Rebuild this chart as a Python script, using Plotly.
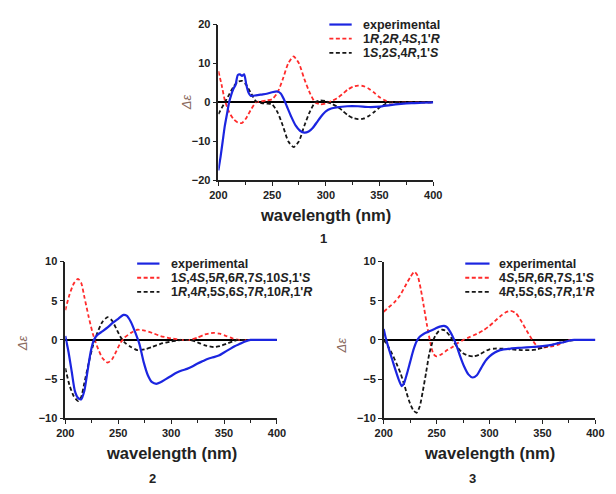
import plotly.graph_objects as go

# ---------------- data ----------------
# Panel 1
wl1_exp = [200, 202, 204, 206, 208, 210, 212, 214, 216, 218, 220, 222, 224, 226, 228, 230, 235, 240, 245, 250,
           255, 258, 261, 264, 268, 272, 276, 280, 284, 288, 292, 296, 300, 305, 310, 320, 330, 340, 350, 360,
           370, 380, 390, 400]
exp1 = [-17.5, -14, -10, -6, -3, 0, 2, 3.5, 4.5, 7, 7.2, 6.8, 7.2, 4.5, 2.5, 1.7, 1.8, 2.0, 2.2, 2.6,
        2.8, 2.3, 0.8, -1.2, -3.8, -6, -7.3, -7.8, -7.5, -6.5, -5, -3.5, -2.3, -1.6, -1.3, -1.0, -1.0, -1.2, -1.1, -0.7,
        -0.4, -0.2, -0.1, 0]
wl1_calc = [200, 203, 206, 210, 214, 218, 222, 226, 230, 235, 240, 245, 250, 255, 260, 265, 270, 275, 280, 285,
            290, 295, 300, 305, 310, 315, 320, 325, 330, 335, 340, 345, 350, 355, 360, 370, 380, 390, 400]
red1 = [8, 4.5, 0.5, -2.5, -4.3, -5.2, -5.3, -4, -2, 0, 0.3, 0.5, 0.8, 2.5, 6, 10, 11.8, 10, 6, 2.5,
        0, -0.5, -0.3, 0.3, 1, 2, 3.2, 4, 4.3, 4.2, 3.5, 2.5, 1.3, 0.5, 0, 0, 0, 0, 0]
black1 = [-3, -1.5, 0, 2, 4, 5.3, 5.5, 4.5, 2.5, 0.3, -0.2, -0.3, -0.5, -2.5, -6, -10, -11.5, -10, -6, -2.5,
          0, 0.5, 0.3, -0.3, -1, -2, -3.2, -4, -4.3, -4.2, -3.5, -2.5, -1.3, -0.5, 0, 0, 0, 0, 0]

# Panel 2
wl2_exp = [200, 203, 206, 209, 212, 215, 218, 221, 224, 227, 230, 235, 240, 245, 250, 255, 258, 262, 266, 270,
           274, 278, 282, 286, 290, 295, 300, 305, 310, 315, 320, 325, 330, 335, 340, 345, 350, 355, 360, 365,
           370, 375, 380, 390, 400]
exp2 = [0.5, -1.5, -4, -6.5, -7.4, -7.6, -6.5, -4, -1.5, 0, 0.6, 1.1, 1.6, 2.2, 2.7, 3.2, 3.1, 2.3, 1.0, -0.5,
        -2.8, -4.5, -5.4, -5.6, -5.4, -5.0, -4.6, -4.2, -3.9, -3.7, -3.4, -3.0, -2.7, -2.4, -2.2, -2.0, -1.6, -1.2, -0.8, -0.5,
        -0.2, 0, 0, 0, 0]
wl2_calc = [200, 204, 208, 212, 215, 218, 222, 226, 230, 235, 240, 244, 248, 252, 256, 262, 268, 275, 282, 290,
            300, 310, 318, 325, 332, 340, 346, 352, 358, 364, 380, 400]
red2 = [3.8, 5.8, 7.2, 7.8, 7.3, 5.5, 3, 0.8, -0.8, -2.3, -2.9, -2.5, -1.5, -0.4, 0.3, 0.9, 1.3, 1.2, 0.9, 0.5,
        0.2, 0, 0, 0.3, 0.7, 0.9, 0.8, 0.5, 0.2, 0, 0, 0]
black2 = [-3.6, -5.8, -7.2, -7.8, -7.3, -5.5, -3, -0.8, 0.8, 2.3, 2.9, 2.5, 1.5, 0.4, -0.3, -0.9, -1.3, -1.2, -0.9, -0.5,
          -0.2, 0, 0, -0.3, -0.7, -0.9, -0.8, -0.5, -0.2, 0, 0, 0]

# Panel 3
wl3_exp = [200, 202, 205, 208, 211, 214, 217, 219, 222, 225, 228, 231, 234, 238, 243, 248, 253, 257, 260, 263,
           266, 269, 272, 276, 280, 284, 288, 292, 296, 300, 305, 310, 320, 330, 340, 350, 360, 365, 370, 375,
           380, 390, 400]
exp3 = [1.4, 0.2, -1.2, -2.5, -3.8, -5.0, -5.9, -5.6, -4.3, -2.8, -1.3, -0.2, 0.4, 0.8, 1.1, 1.4, 1.7, 1.8, 1.6, 1.0,
        0.2, -0.8, -2.0, -3.4, -4.4, -4.8, -4.5, -3.6, -2.7, -2.1, -1.6, -1.3, -1.1, -1.0, -0.9, -0.8, -0.6, -0.4, -0.3, -0.1,
        0, 0, 0]
wl3_red = [200, 205, 210, 215, 220, 225, 229, 232, 235, 238, 241, 244, 247, 250, 255, 260, 265, 270, 275, 280,
           285, 290, 295, 300, 305, 310, 315, 320, 325, 330, 335, 340, 345, 350, 355, 360, 365, 370, 375, 380,
           390, 400]
red3 = [3.6, 4.2, 4.8, 5.6, 6.8, 8.0, 8.7, 8.2, 6.5, 4.2, 1.8, -0.3, -1.8, -2.1, -1.8, -1.3, -0.9, -0.4, 0.0, 0.3,
        0.6, 0.9, 1.3, 1.8, 2.4, 3.0, 3.5, 3.7, 3.4, 2.4, 1.2, 0.1, -0.8, -1.0, -0.9, -0.8, -0.6, -0.3, 0, 0,
        0, 0]
wl3_black = [200, 204, 208, 212, 216, 220, 224, 228, 231, 234, 237, 240, 243, 246, 249, 252, 255, 258, 262, 266,
             270, 275, 280, 285, 290, 295, 300, 305, 310, 320, 330, 340, 345, 350, 355, 360, 365, 370, 375, 380,
             390, 400]
black3 = [0, -0.8, -1.8, -3.0, -4.3, -6.0, -7.8, -9.0, -9.3, -8.5, -6.5, -4.2, -1.8, -0.3, 0.6, 1.1, 1.3, 1.2, 0.6, -0.2,
          -1.0, -1.7, -2.0, -2.1, -1.9, -1.5, -1.2, -1.1, -1.1, -1.2, -1.3, -1.3, -1.2, -1.0, -0.8, -0.6, -0.4, -0.2, -0.1, 0,
          0, 0]

legend1 = ["experimental", "1<i>R</i>,2<i>R</i>,4<i>S</i>,1'<i>R</i>", "1<i>S</i>,2<i>S</i>,4<i>R</i>,1'<i>S</i>"]
legend2 = ["experimental", "1<i>S</i>,4<i>S</i>,5<i>R</i>,6<i>R</i>,7<i>S</i>,10<i>S</i>,1'<i>S</i>",
           "1<i>R</i>,4<i>R</i>,5<i>S</i>,6<i>S</i>,7<i>R</i>,10<i>R</i>,1'<i>R</i>"]
legend3 = ["experimental", "4<i>S</i>,5<i>R</i>,6<i>R</i>,7<i>S</i>,1'<i>S</i>", "4<i>R</i>,5<i>S</i>,6<i>S</i>,7<i>R</i>,1'<i>R</i>"]
panel_labels = ["1", "2", "3"]

# ---------------- styling ----------------
W, H = 616, 494
FONT = "Liberation Sans, Arial, sans-serif"
BLUE = "#1b25e0"
RED = "#ff2b2b"
BLACK = "#161616"
TXT = "#222222"
DE_COL = "#8a6a60"


def px(x):
    return x / W


def py(y):
    return 1 - y / H


fig = go.Figure()

panels = [
    (wl1_exp, exp1, wl1_calc, red1, wl1_calc, black1, "x", "y"),
    (wl2_exp, exp2, wl2_calc, red2, wl2_calc, black2, "x2", "y2"),
    (wl3_exp, exp3, wl3_red, red3, wl3_black, black3, "x3", "y3"),
]
for (we, e, wr, r, wb, b, xa, ya) in panels:
    fig.add_trace(go.Scatter(x=wr, y=r, mode="lines", xaxis=xa, yaxis=ya, showlegend=False,
                             line=dict(color=RED, width=1.8, dash="4px,2.5px", shape="spline", smoothing=0.6)))
    fig.add_trace(go.Scatter(x=wb, y=b, mode="lines", xaxis=xa, yaxis=ya, showlegend=False,
                             line=dict(color=BLACK, width=1.8, dash="4px,2.5px", shape="spline", smoothing=0.6)))
    fig.add_trace(go.Scatter(x=we, y=e, mode="lines", xaxis=xa, yaxis=ya, showlegend=False,
                             line=dict(color=BLUE, width=2.2, shape="spline", smoothing=0.6)))

tickfont = dict(family=FONT, size=11, color=TXT, weight="bold")
xcommon = dict(range=[200, 400], dtick=50, tick0=200, showline=True, linecolor=TXT, linewidth=1.5,
               ticks="outside", ticklen=4, tickwidth=1.3, tickcolor=TXT, showgrid=False, zeroline=False,
               tickfont=tickfont, minor=dict(dtick=25, ticks="outside", ticklen=3, tickcolor=TXT, tickwidth=1.2))
ycommon = dict(showline=True, linecolor=TXT, linewidth=1.5, ticks="outside", ticklen=4, tickwidth=1.3,
               tickcolor=TXT, showgrid=False, zeroline=True, zerolinecolor="#000000", zerolinewidth=1.6,
               tickfont=tickfont)

dom_x1 = [px(215.7), px(437)]
dom_y1 = [py(178.5), py(19)]
dom_x2 = [px(58), px(276)]
dom_x3 = [px(386), px(604)]
dom_yb = [py(422.5), py(262)]

fig.update_layout(
    width=W, height=H, margin=dict(l=0, r=0, t=0, b=0),
    paper_bgcolor="white", plot_bgcolor="white", showlegend=False,
    xaxis=dict(domain=dom_x1, anchor="y", **xcommon),
    yaxis=dict(domain=dom_y1, anchor="x", range=[-20, 20], dtick=10, **ycommon),
    xaxis2=dict(domain=dom_x2, anchor="y2", **xcommon),
    yaxis2=dict(domain=dom_yb, anchor="x2", range=[-10, 10], dtick=5, **ycommon),
    xaxis3=dict(domain=dom_x3, anchor="y3", **xcommon),
    yaxis3=dict(domain=dom_yb, anchor="x3", range=[-10, 10], dtick=5, **ycommon),
)

annotations = []
shapes = []


def text(x, y, s, size, color=TXT, anchor="center", angle=0, italic=False, bold=True):
    annotations.append(dict(x=px(x), y=py(y), xref="paper", yref="paper", text=s, showarrow=False,
                            xanchor=anchor, yanchor="middle", textangle=angle,
                            font=dict(family=FONT, size=size, color=color,
                                      weight="bold" if bold else "normal",
                                      style="italic" if italic else "normal")))


# axis titles
text(326, 214, "wavelength (nm)", 16.5)
text(167, 458, "wavelength (nm)", 16.5)
text(495, 458, "wavelength (nm)", 16.5)
# Δε
text(183, 99, "Δε", 13, color=DE_COL, angle=-90, italic=True, bold=False)
text(14, 346, "Δε", 13, color=DE_COL, angle=-90, italic=True, bold=False)
text(343, 348, "Δε", 13, color=DE_COL, angle=-90, italic=True, bold=False)
# panel numbers
text(324, 238, panel_labels[0], 13)
text(148, 484, panel_labels[1], 13)
text(477, 484, panel_labels[2], 13)

# legends (manual, compact rows)
styles = [(BLUE, 2.2, "solid"), (RED, 1.8, "4px,2.5px"), (BLACK, 1.8, "4px,2.5px")]
for labels, x0, x1, xt, rows in [
    (legend1, 330, 353, 363, [19, 33.5, 48]),
    (legend2, 132, 155, 165, [264, 278.5, 293]),
    (legend3, 470, 495, 503, [264, 278.5, 293]),
]:
    for lab, yy, (c, w, d) in zip(labels, rows, styles):
        shapes.append(dict(type="line", xref="paper", yref="paper", x0=px(x0), x1=px(x1), y0=py(yy), y1=py(yy),
                           line=dict(color=c, width=w, dash=d)))
        text(xt, yy, lab, 12.5, anchor="left")

fig.update_layout(annotations=annotations, shapes=shapes)
fig.write_html("out.html", config={"displayModeBar": False},
               post_script="document.body.style.margin='0';document.body.style.overflow='hidden';")
